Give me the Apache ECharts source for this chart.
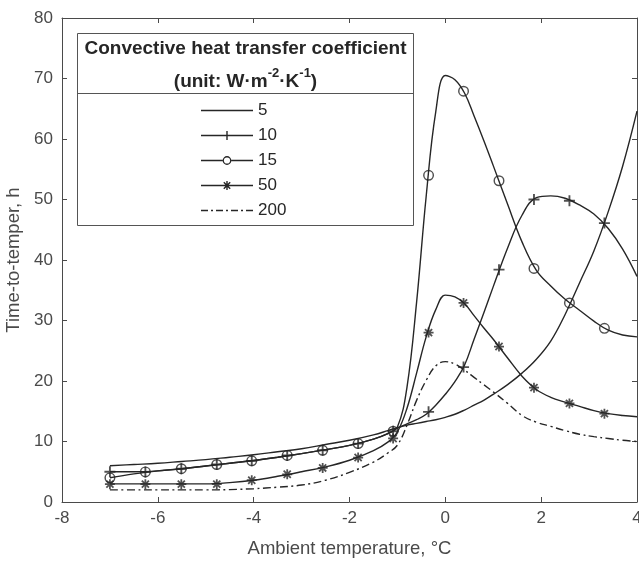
<!DOCTYPE html>
<html>
<head>
<meta charset="utf-8">
<script src="https://cdn.jsdelivr.net/npm/echarts@6/dist/echarts.min.js"></script>
<style>
  html, body { margin: 0; padding: 0; background: #fff; }
  #chart { width: 639px; height: 564px; }
</style>
</head>
<body>
<div id="chart"></div>
<script>
// ambient temperature grid (deg C) for the curves
const temps = [-7, -6.5, -6, -5.5, -5, -4.5, -4, -3.5, -3, -2.5, -2, -1.5,
  -1.2, -1.0, -0.8, -0.6, -0.4, -0.2, 0, 0.2, 0.4, 0.6, 0.8, 1.0,
  1.3, 1.6, 1.9, 2.2, 2.5, 2.8, 3.1, 3.4, 3.7, 4.0];

// time-to-temper (h) per convective coefficient
const h5 = [6.0, 6.2, 6.4, 6.7, 7.0, 7.4, 7.8, 8.3, 8.8, 9.5, 10.2, 11.1,
  11.8, 12.3, 12.7, 13.0, 13.3, 13.6, 14.0, 14.5, 15.2, 16.0, 16.8, 17.8,
  19.4, 21.3, 23.6, 26.6, 31.0, 36.2, 41.5, 48.0, 55.5, 64.6];
const h10 = [5.0, 5.0, 5.15, 5.5, 5.95, 6.4, 6.85, 7.4, 8.0, 8.65, 9.35, 10.4,
  11.3, 12.2, 12.9, 13.6, 14.5, 16.0, 17.8, 19.9, 22.6, 26.9, 31.2, 35.6,
  42.0, 47.4, 50.3, 50.6, 50.2, 49.1, 47.6, 45.2, 41.8, 37.3];
const h15 = [4.0, 4.65, 5.15, 5.5, 5.95, 6.4, 6.85, 7.4, 8.0, 8.65, 9.35, 10.4,
  11.3, 12.4, 19.0, 33.0, 50.5, 64.5, 70.5, 69.8, 67.6, 63.8, 59.8, 55.6,
  49.2, 43.0, 38.3, 35.7, 33.5, 31.7, 29.9, 28.4, 27.6, 27.3];
const h50 = [3.0, 3.0, 3.0, 3.0, 3.0, 3.2, 3.6, 4.25, 5.0, 5.8, 6.9, 8.5,
  9.9, 11.6, 15.5, 21.3, 27.3, 31.8, 34.2, 33.9, 32.8, 30.8, 28.8, 26.9,
  23.8, 20.8, 18.6, 17.3, 16.5, 15.8, 15.1, 14.6, 14.3, 14.1];
const h200 = [2.0, 2.0, 2.0, 2.0, 2.0, 2.05, 2.2, 2.45, 2.8, 3.6, 4.9, 6.6,
  8.1, 9.4, 12.7, 16.8, 20.1, 22.5, 23.2, 22.8, 21.8, 20.6, 19.4, 18.2,
  16.3, 14.3, 13.2, 12.5, 11.8, 11.2, 10.8, 10.5, 10.2, 10.0];

// marker positions
const markTemps = [-7, -6.26, -5.51, -4.77, -4.04, -3.30, -2.56, -1.82, -1.09, -0.35, 0.38, 1.12, 1.85, 2.59, 3.32];
const m10 = [5.0, 4.97, 5.5, 6.2, 6.8, 7.7, 8.55, 9.65, 11.7, 14.9, 22.3, 38.4, 50.0, 49.8, 46.1];
const m15 = [4.0, 4.97, 5.5, 6.2, 6.8, 7.7, 8.55, 9.65, 11.7, 54.0, 67.9, 53.1, 38.6, 32.9, 28.7];
const m50 = [2.95, 2.95, 2.95, 2.95, 3.6, 4.58, 5.63, 7.35, 10.5, 28.0, 32.9, 25.7, 18.9, 16.3, 14.6];

const names = ['5', '10', '15', '50', '200'];
const xTicks = { min: -8, max: 4, interval: 2 };
const yTicks = { min: 0, max: 80, interval: 10 };

const ink = '#262626';
const axisInk = '#4a4a4a';
const font = '"Liberation Sans", Arial, sans-serif';

const plusSym = 'path://M-0.85,-5H0.85V5H-0.85Z M-5,-0.85H5V0.85H-5Z';
const ringSym = 'path://M-5,0A5,5 0 1,1 5,0A5,5 0 1,1 -5,0Z M-3.7,0A3.7,3.7 0 1,0 3.7,0A3.7,3.7 0 1,0 -3.7,0Z';
const starSym = 'path://M-0.8,-4.5H0.8V4.5H-0.8Z M-4.5,-0.8H4.5V0.8H-4.5Z ' +
  'M-2.63,-3.77L3.77,2.63L2.63,3.77L-3.77,-2.63Z M3.77,-2.63L-2.63,3.77L-3.77,2.63L2.63,-3.77Z';

// legend icons (52 x 14 box)
const bar = 'M0,6.25H52V7.75H0Z';
const icons = {
  '5': 'path://' + bar,
  '10': 'path://' + bar + ' M25.3,2.5H26.7V11.5H25.3Z',
  '15': 'path://M0,6.25H21.6V7.75H0Z M30.4,6.25H52V7.75H30.4Z ' +
        'M21.6,7A4.4,4.4 0 1,1 30.4,7A4.4,4.4 0 1,1 21.6,7Z M22.9,7A3.1,3.1 0 1,0 29.1,7A3.1,3.1 0 1,0 22.9,7Z',
  '50': 'path://' + bar + ' M25.3,2.5H26.7V11.5H25.3Z ' +
        'M23.3,3.3L29.7,9.7L28.7,10.7L22.3,4.3Z M29.7,4.3L23.3,10.7L22.3,9.7L28.7,3.3Z',
  '200': 'path://M0,6.25H7V7.75H0Z M10,6.25H12V7.75H10Z M15,6.25H22V7.75H15Z M25,6.25H27V7.75H25Z ' +
         'M30,6.25H37V7.75H30Z M40,6.25H42V7.75H40Z M45,6.25H52V7.75H45Z'
};

function pairs(xs, ys) {
  return xs.map((x, i) => [x, ys[i]]);
}

function curve(name, ys, dashed) {
  return {
    name: name,
    type: 'line',
    data: pairs(temps, ys),
    smooth: 0.4,
    symbol: 'none',
    lineStyle: { color: ink, width: 1.4, type: dashed ? [8, 3.5, 2, 3.5] : 'solid' },
    itemStyle: { color: ink },
    silent: true,
    z: 2
  };
}

function markers(name, ys, sym, size) {
  return {
    name: name + ' markers',
    type: 'scatter',
    data: pairs(markTemps, ys),
    symbol: sym,
    symbolSize: size,
    itemStyle: { color: ink },
    silent: true,
    z: 3
  };
}

const axisCommon = {
  type: 'value',
  axisLine: { show: true, onZero: false, lineStyle: { color: axisInk, width: 1 } },
  axisTick: { show: true, inside: true, length: 5, lineStyle: { color: axisInk } },
  splitLine: { show: false }
};

const chart = echarts.init(document.getElementById('chart'));
chart.setOption({
  animation: false,
  grid: { left: 62, right: 2, top: 18, bottom: 62, outerBoundsMode: 'none' },
  xAxis: [
    Object.assign({}, axisCommon, xTicks, {
      position: 'bottom',
      name: 'Ambient temperature, °C',
      nameLocation: 'middle',
      nameGap: 37,
      nameTextStyle: { color: axisInk, fontSize: 18.5, fontFamily: font },
      axisLabel: { color: axisInk, fontSize: 17, margin: 8, fontFamily: font }
    }),
    Object.assign({}, axisCommon, xTicks, { position: 'top', axisLabel: { show: false } })
  ],
  yAxis: [
    Object.assign({}, axisCommon, yTicks, {
      position: 'left',
      name: 'Time-to-temper, h',
      nameLocation: 'middle',
      nameGap: 33,
      nameTextStyle: { color: axisInk, fontSize: 18.5, fontFamily: font },
      axisLabel: { color: axisInk, fontSize: 17, margin: 9, fontFamily: font }
    }),
    Object.assign({}, axisCommon, yTicks, { position: 'right', axisLabel: { show: false } })
  ],
  legend: {
    orient: 'vertical',
    left: 201,
    top: 102,
    itemWidth: 52,
    itemHeight: 14,
    itemGap: 8,
    selectedMode: false,
    padding: 0,
    itemStyle: { color: ink, borderWidth: 0 },
    textStyle: { color: ink, fontSize: 17, fontFamily: font },
    data: names.map(n => ({ name: n, icon: icons[n] }))
  },
  graphic: [
    {
      type: 'rect',
      z: 1,
      shape: { x: 77.5, y: 33.5, width: 336, height: 192 },
      style: { fill: '#fff', stroke: '#555', lineWidth: 1 }
    },
    {
      type: 'line',
      z: 1,
      shape: { x1: 77.5, y1: 93.5, x2: 413.5, y2: 93.5 },
      style: { stroke: '#555', lineWidth: 1 }
    },
    {
      type: 'text',
      z: 1,
      x: 245.5,
      y: 49,
      style: {
        text: 'Convective heat transfer coefficient',
        fill: ink,
        font: 'bold 19px ' + font,
        align: 'center',
        verticalAlign: 'middle'
      }
    },
    {
      type: 'text',
      z: 1,
      x: 245.5,
      y: 79,
      style: {
        text: '{b|(unit: W·m}{s|-2}{b|·K}{s|-1}{b|)}',
        fill: ink,
        align: 'center',
        verticalAlign: 'middle',
        rich: {
          b: { fontSize: 19, fontWeight: 'bold', fontFamily: font, fill: ink, lineHeight: 24, verticalAlign: 'bottom' },
          s: { fontSize: 13, fontWeight: 'bold', fontFamily: font, fill: ink, lineHeight: 24, verticalAlign: 'top', padding: [0, 0, 7, 0] }
        }
      }
    }
  ],
  series: [
    curve('5', h5, false),
    curve('10', h10, false),
    curve('15', h15, false),
    curve('50', h50, false),
    curve('200', h200, true),
    markers('10', m10, plusSym, 11),
    markers('15', m15, ringSym, 11),
    markers('50', m50, starSym, 10)
  ]
});
</script>
</body>
</html>
